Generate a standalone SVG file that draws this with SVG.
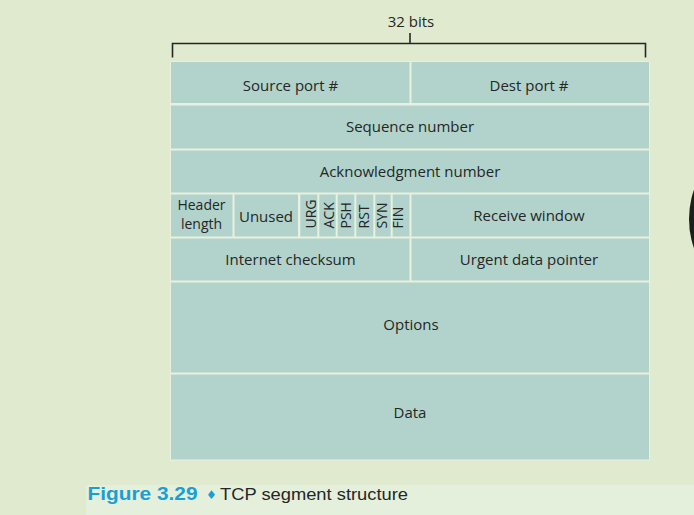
<svg xmlns="http://www.w3.org/2000/svg" width="694" height="515" viewBox="0 0 694 515">
<style>
.cell{fill:#b1d3cc}
.lbl{font-family:"Open Sans","Noto Sans",sans-serif;font-size:15px;fill:#262626;text-anchor:middle}
.small{font-size:14px}
.flag{font-family:"Open Sans","Noto Sans",sans-serif;font-size:14px;fill:#262626;text-anchor:start}
.br{fill:none;stroke:#262626;stroke-width:1.6}
</style>
<rect x="0" y="0" width="694" height="515" fill="#e0eacf"/>
<rect x="86" y="485" width="608" height="30" fill="#e5f0dc"/>
<ellipse cx="722" cy="219" rx="33" ry="55" fill="#1e1e1e"/>
<g id="connectors">
<path class="br" d="M172.5,57.5 V43.5 H645.5 V57.5 M410,33 V43.5"/>
</g>
<g id="width-label"><text class="lbl" x="411" y="27">32 bits</text></g>
<rect x="170" y="61" width="480" height="399.5" fill="#e8f0df"/>
<g id="source-port"><rect class="cell" x="171" y="62" width="238.5" height="41"/><text class="lbl" x="290.5" y="91">Source port #</text></g>
<g id="dest-port"><rect class="cell" x="411.5" y="62" width="237.5" height="41"/><text class="lbl" x="529" y="91">Dest port #</text></g>
<g id="seq"><rect class="cell" x="171" y="105.5" width="478" height="43"/><text class="lbl" x="410" y="132">Sequence number</text></g>
<g id="ack-num"><rect class="cell" x="171" y="150.5" width="478" height="42"/><text class="lbl" x="410" y="177">Acknowledgment number</text></g>
<g id="header-length"><rect class="cell" x="171" y="194.5" width="61.5" height="42"/><text class="lbl small" x="201.5" y="210">Header</text><text class="lbl small" x="201.5" y="229">length</text></g>
<g id="unused"><rect class="cell" x="234.5" y="194.5" width="63.5" height="42"/><text class="lbl" x="266" y="221.5">Unused</text></g>
<g id="urg"><rect class="cell" x="300.3" y="194.5" width="17" height="42"/><text class="flag" transform="translate(316,228.5) rotate(-90)">URG</text></g>
<g id="ack"><rect class="cell" x="319.3" y="194.5" width="16.4" height="42"/><text class="flag" transform="translate(333.5,228.5) rotate(-90)">ACK</text></g>
<g id="psh"><rect class="cell" x="337.7" y="194.5" width="16.6" height="42"/><text class="flag" transform="translate(351,228.5) rotate(-90)">PSH</text></g>
<g id="rst"><rect class="cell" x="356.3" y="194.5" width="17" height="42"/><text class="flag" transform="translate(368.7,228.5) rotate(-90)">RST</text></g>
<g id="syn"><rect class="cell" x="375.3" y="194.5" width="15.4" height="42"/><text class="flag" transform="translate(386.7,228.5) rotate(-90)">SYN</text></g>
<g id="fin"><rect class="cell" x="392.7" y="194.5" width="16.8" height="42"/><text class="flag" transform="translate(403.3,228.5) rotate(-90)">FIN</text></g>
<g id="receive-window"><rect class="cell" x="411.5" y="194.5" width="237.5" height="42"/><text class="lbl" x="529" y="221">Receive window</text></g>
<g id="checksum"><rect class="cell" x="171" y="238.5" width="238.5" height="42"/><text class="lbl" x="290.5" y="265">Internet checksum</text></g>
<g id="urgent-pointer"><rect class="cell" x="411.5" y="238.5" width="237.5" height="42"/><text class="lbl" x="529" y="265">Urgent data pointer</text></g>
<g id="options"><rect class="cell" x="171" y="282.5" width="478" height="90"/><text class="lbl" x="411" y="330">Options</text></g>
<g id="data"><rect class="cell" x="171" y="374.5" width="478" height="85"/><text class="lbl" x="410" y="418">Data</text></g>
<g id="caption">
<text x="87.5" y="500" font-family="'Liberation Sans',Arial,sans-serif" font-size="18" font-weight="bold" fill="#1a9fd4" textLength="110" lengthAdjust="spacingAndGlyphs">Figure 3.29</text>
<text x="211.5" y="499" font-family="'DejaVu Sans',sans-serif" font-size="12" fill="#1a9fd4" text-anchor="middle">♦</text>
<text x="220" y="500" font-family="'Liberation Sans',Arial,sans-serif" font-size="17" fill="#262626" textLength="188" lengthAdjust="spacingAndGlyphs">TCP segment structure</text>
</g>
</svg>
